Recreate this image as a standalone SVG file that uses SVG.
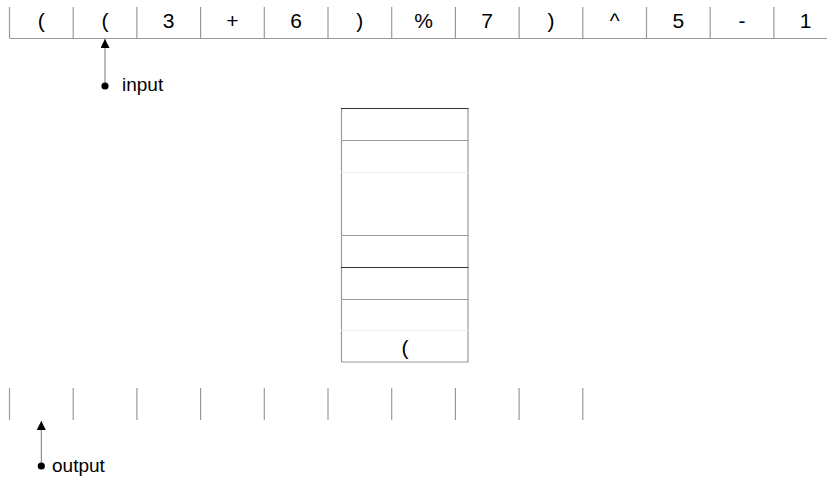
<svg xmlns="http://www.w3.org/2000/svg" width="827" height="478" viewBox="0 0 827 478">
<defs>
<style>
.t{font-family:"Liberation Sans Narrow","Liberation Sans",sans-serif;font-stretch:condensed;fill:#000;}
.tok{font-size:21px;text-anchor:middle;}
.lbl{font-size:19px;}
.v{stroke:#999;stroke-width:1.2;}
.h{stroke:#999;stroke-width:1.2;}
.dark{stroke:#333;stroke-width:1.2;}
.light{stroke:#eee;stroke-width:1;}
.ptr{stroke:#777;stroke-width:1;}
</style>
<marker id="ah" viewBox="0 0 10 10" refX="10" refY="5" markerWidth="9" markerHeight="9" markerUnits="userSpaceOnUse" orient="auto">
<path d="M0,0 L10,5 L0,10 z" fill="#000"/>
</marker>
</defs>
<rect width="827" height="478" fill="#fff"/>

<g id="input-tape">
<line class="h" x1="9.5" y1="38.5" x2="827" y2="38.5"/>
<line class="v" x1="9.5" y1="7" x2="9.5" y2="38"/>
<line class="v" x1="73.2" y1="7" x2="73.2" y2="38"/>
<line class="v" x1="136.9" y1="7" x2="136.9" y2="38"/>
<line class="v" x1="200.6" y1="7" x2="200.6" y2="38"/>
<line class="v" x1="264.3" y1="7" x2="264.3" y2="38"/>
<line class="v" x1="328" y1="7" x2="328" y2="38"/>
<line class="v" x1="391.7" y1="7" x2="391.7" y2="38"/>
<line class="v" x1="455.4" y1="7" x2="455.4" y2="38"/>
<line class="v" x1="519.1" y1="7" x2="519.1" y2="38"/>
<line class="v" x1="582.8" y1="7" x2="582.8" y2="38"/>
<line class="v" x1="646.5" y1="7" x2="646.5" y2="38"/>
<line class="v" x1="710.2" y1="7" x2="710.2" y2="38"/>
<line class="v" x1="773.9" y1="7" x2="773.9" y2="38"/>
<text class="t tok" x="41.3" y="28">(</text>
<text class="t tok" x="105" y="28">(</text>
<text class="t tok" x="168.7" y="28">3</text>
<text class="t tok" x="232.4" y="28">+</text>
<text class="t tok" x="296.1" y="28">6</text>
<text class="t tok" x="359.8" y="28">)</text>
<text class="t tok" x="423.5" y="28">%</text>
<text class="t tok" x="487.2" y="28">7</text>
<text class="t tok" x="550.9" y="28">)</text>
<text class="t tok" x="614.6" y="28">^</text>
<text class="t tok" x="678.3" y="28">5</text>
<text class="t tok" x="742" y="28">-</text>
<text class="t tok" x="805.7" y="28">1</text>
</g>

<g id="input-pointer">
<line class="ptr" x1="105" y1="86" x2="105" y2="39" marker-end="url(#ah)"/>
<circle cx="105" cy="86" r="3.6" fill="#000"/>
<text class="t lbl" x="122" y="91">input</text>
</g>

<g id="stack">
<line class="v" x1="341.5" y1="108" x2="341.5" y2="362"/>
<line class="v" x1="468" y1="108" x2="468" y2="362"/>
<line class="dark" x1="341" y1="108.5" x2="468.5" y2="108.5"/>
<line class="h" x1="341" y1="140.5" x2="468.5" y2="140.5"/>
<line class="light" x1="341" y1="172.5" x2="468.5" y2="172.5"/>
<line class="h" x1="341" y1="235.5" x2="468.5" y2="235.5"/>
<line class="dark" x1="341" y1="267.5" x2="468.5" y2="267.5"/>
<line class="h" x1="341" y1="299.5" x2="468.5" y2="299.5"/>
<line class="light" x1="341" y1="330.5" x2="468.5" y2="330.5"/>
<line class="h" x1="341" y1="362" x2="468.5" y2="362"/>
<text class="t tok" x="405" y="355">(</text>
</g>

<g id="output-tape">
<line class="v" x1="9.5" y1="388" x2="9.5" y2="420"/>
<line class="v" x1="73.2" y1="388" x2="73.2" y2="420"/>
<line class="v" x1="136.9" y1="388" x2="136.9" y2="420"/>
<line class="v" x1="200.6" y1="388" x2="200.6" y2="420"/>
<line class="v" x1="264.3" y1="388" x2="264.3" y2="420"/>
<line class="v" x1="328" y1="388" x2="328" y2="420"/>
<line class="v" x1="391.7" y1="388" x2="391.7" y2="420"/>
<line class="v" x1="455.4" y1="388" x2="455.4" y2="420"/>
<line class="v" x1="519.1" y1="388" x2="519.1" y2="420"/>
<line class="v" x1="582.8" y1="388" x2="582.8" y2="420"/>
</g>

<g id="output-pointer">
<line class="ptr" x1="41.3" y1="466" x2="41.3" y2="421" marker-end="url(#ah)"/>
<circle cx="41.3" cy="466" r="3.6" fill="#000"/>
<text class="t lbl" x="52" y="472">output</text>
</g>
</svg>
